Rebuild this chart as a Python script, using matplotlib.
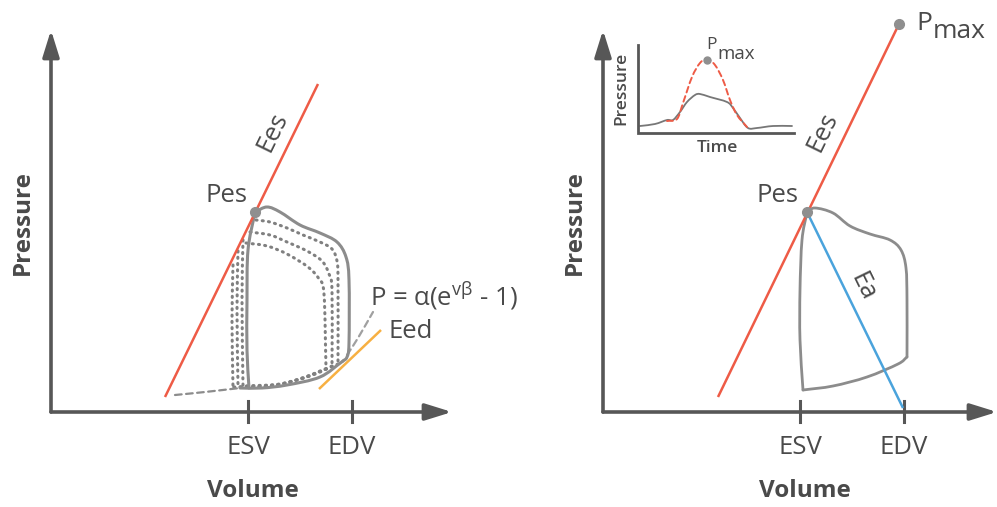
"""
Pressure-volume loop schematics: ESPVR / EDPVR (left) and Ees / Ea coupling (right).
Drawn on a single full-figure axes in pixel coordinates (y pointing down).
"""
import numpy as np
import matplotlib
matplotlib.use("Agg")
import matplotlib.pyplot as plt
from matplotlib.path import Path
from matplotlib.patches import PathPatch

plt.rcParams["font.family"] = ["Open Sans", "DejaVu Sans"]

W, H = 997, 507

TEXT = "#4a4a4a"
AXIS = "#575757"
LOOP = "#8c8c8c"
RED = "#ee5b46"
ORANGE = "#f7b042"
BLUE = "#4aa3dc"
FS = 18.5  # regular label size

# ---------------------------------------------------------------------------
# Data (pixel positions)
# ---------------------------------------------------------------------------

# left panel
L_origin = (51, 412)
L_ytip = (51, 30)
L_xtip = (452, 412)
L_ticks = [248, 352]
tick_labels = ["ESV", "EDV"]

L_ees = [(165, 397), (318, 84)]
L_pes = (255, 212)
L_loop_top = [(255, 212), (267, 207), (280, 212), (300, 225), (320, 233),
              (337, 242), (346, 257), (349, 280), (349, 343), (347, 357), (343, 361)]
L_loop_bottom = [(343, 361), (320, 377), (287, 385), (262, 388), (240, 388)]
L_loop_left = [(249, 388), (247, 350), (247, 300), (248, 250), (255, 212)]

L_dotted_tops = [
    [(256, 220), (270, 222), (287, 228), (303, 235), (320, 242), (332, 249),
     (337, 261), (338, 280), (338, 363)],
    [(250, 232), (270, 235), (287, 242), (307, 251), (322, 261), (329, 274),
     (332, 290), (332, 365)],
    [(246, 243), (267, 246), (287, 254), (308, 267), (319, 279), (324, 294),
     (326, 368)],
]
L_dotted_left = [
    [(243, 240), (242, 300), (243, 386)],
    [(238, 251), (237, 310), (238, 386)],
    [(233, 265), (232, 320), (233, 387)],
]
L_dotted_bottom = [
    [(338, 364), (310, 376), (280, 384), (243, 386)],
    [(332, 366), (305, 377), (275, 385), (238, 387)],
    [(326, 369), (300, 379), (270, 386), (233, 387)],
]
L_edpvr_low = [(175, 395), (205, 392), (240, 388)]
L_edpvr_high = [(347, 355), (358, 338), (373, 312)]
L_eed = [(319, 389), (381, 330)]

# right panel
R_origin = (603, 412)
R_ytip = (603, 30)
R_xtip = (997, 412)
R_ticks = [800, 904]

R_ees = [(718, 397), (899, 24)]
R_pmax = (899, 24)
R_pes = (807, 212)
R_ea = [(807, 212), (903, 408)]
R_loop_top = [(807, 212), (815, 208), (833, 213), (850, 226), (870, 234),
              (890, 240), (901, 250), (906, 268), (907, 300), (907, 357)]
R_loop_bottom = [(907, 357), (898, 364), (867, 377), (833, 386), (803, 390)]
R_loop_left = [(803, 390), (800, 340), (800, 290), (802, 240), (807, 212)]

# inset: pressure vs time
I_origin = (638, 133)
I_ytop = (638, 45)
I_xend = (794, 133)
I_pressure = [(640, 126), (655, 124), (667, 120), (673, 120), (680, 112), (687, 102),
              (695, 95), (700, 94), (710, 97), (727, 102), (733, 108), (740, 118),
              (748, 128), (757, 128), (773, 126), (792, 126)]
I_isovolumic = [(667, 121), (677, 119), (683, 103), (692, 77), (700, 63), (707, 59),
                (715, 65), (723, 80), (730, 100), (737, 115), (747, 127)]
I_pmax = (707, 60)


# ---------------------------------------------------------------------------
# Helpers
# ---------------------------------------------------------------------------

def smooth_path(pts):
    """Catmull-Rom through pts, expressed as cubic Bezier segments."""
    p = np.asarray(pts, float)
    ext = np.vstack([2 * p[0] - p[1], p, 2 * p[-1] - p[-2]])
    verts = [p[0]]
    codes = [Path.MOVETO]
    for i in range(1, len(ext) - 2):
        p0, p1, p2, p3 = ext[i - 1], ext[i], ext[i + 1], ext[i + 2]
        verts += [p1 + (p2 - p0) / 6, p2 - (p3 - p1) / 6, p2]
        codes += [Path.CURVE4] * 3
    return Path(verts, codes)


def curve(ax, pts, **kw):
    ax.add_patch(PathPatch(smooth_path(pts), fill=False, capstyle="round",
                           joinstyle="round", **kw))


def line(ax, pts, **kw):
    xs, ys = zip(*pts)
    ax.plot(xs, ys, solid_capstyle="butt", **kw)


def axis_arrow(ax, start, tip, lw=2.6, hl=0.9, hw=0.28, ms=18):
    ax.annotate("", xy=tip, xytext=start,
                arrowprops=dict(arrowstyle=f"-|>,head_length={hl},head_width={hw}",
                                lw=lw, color=AXIS, shrinkA=0, shrinkB=0,
                                mutation_scale=ms))


def frame(ax, origin, ytip, xtip, ticks):
    axis_arrow(ax, origin, ytip)
    axis_arrow(ax, origin, xtip)
    for x, lab in zip(ticks, tick_labels):
        ax.plot([x, x], [origin[1] - 11, origin[1] + 10], color=AXIS, lw=2.2)
        ax.text(x, 448, lab, fontsize=FS, color=TEXT, ha="center", va="center")


# ---------------------------------------------------------------------------
# Figure
# ---------------------------------------------------------------------------

fig = plt.figure(figsize=(W / 100, H / 100), dpi=100)
ax = fig.add_axes([0, 0, 1, 1])
ax.set_xlim(0, W)
ax.set_ylim(H, 0)
ax.axis("off")

DOTS = (0, (0.35, 1.7))

# ---- left panel
frame(ax, L_origin, L_ytip, L_xtip, L_ticks)
ax.text(253, 491, "Volume", fontsize=17.5, fontweight="bold", color=TEXT,
        ha="center", va="center")
ax.text(23, 223, "Pressure", fontsize=17.5, fontweight="bold", color=TEXT,
        ha="center", va="center", rotation=90)

for pts in L_dotted_tops + L_dotted_left + L_dotted_bottom:
    curve(ax, pts, edgecolor="#808080", lw=2.2, linestyle=DOTS)
curve(ax, L_edpvr_low, edgecolor=LOOP, lw=1.6, linestyle=(0, (3, 2)))
curve(ax, L_edpvr_high, edgecolor="#a0a0a0", lw=1.6, linestyle=(0, (3, 2)))

line(ax, L_ees, color=RED, lw=1.8)
line(ax, L_eed, color=ORANGE, lw=1.8)
for pts in (L_loop_top, L_loop_bottom, L_loop_left):
    curve(ax, pts, edgecolor=LOOP, lw=2.2)
ax.plot(*L_pes, "o", color="#8f8f8f", ms=7)

ax.text(273, 132, "Ees", fontsize=FS, color=TEXT, ha="center", va="center",
        rotation=64, rotation_mode="anchor")
ax.text(226, 196, "Pes", fontsize=FS, color=TEXT, ha="center", va="center")
ax.text(411, 331, "Eed", fontsize=FS, color=TEXT, ha="center", va="center")
ax.text(370, 296, r"P = α(e$^{\mathregular{vβ}}$ - 1)", fontsize=FS, color=TEXT,
        ha="left", va="center")

# ---- right panel
frame(ax, R_origin, R_ytip, R_xtip, R_ticks)
ax.text(805, 491, "Volume", fontsize=17.5, fontweight="bold", color=TEXT,
        ha="center", va="center")
ax.text(575, 223, "Pressure", fontsize=17.5, fontweight="bold", color=TEXT,
        ha="center", va="center", rotation=90)

line(ax, R_ees, color=RED, lw=1.8)
line(ax, R_ea, color=BLUE, lw=1.8)
for pts in (R_loop_top, R_loop_bottom, R_loop_left):
    curve(ax, pts, edgecolor=LOOP, lw=2.0)
ax.plot(*R_pes, "o", color="#8f8f8f", ms=7)
ax.plot(*R_pmax, "o", color="#8f8f8f", ms=7)

ax.text(823, 132, "Ees", fontsize=FS, color=TEXT, ha="center", va="center",
        rotation=64, rotation_mode="anchor")
ax.text(863, 287, "Ea", fontsize=FS, color=TEXT, ha="center", va="center",
        rotation=-64, rotation_mode="anchor")
ax.text(777, 196, "Pes", fontsize=FS, color=TEXT, ha="center", va="center")
ax.text(916, 30, "P", fontsize=19, color=TEXT, ha="left", va="baseline")
ax.text(933, 38, "max", fontsize=19, color=TEXT, ha="left", va="baseline")

# ---- inset
ax.plot([I_ytop[0], I_origin[0], I_xend[0]], [I_ytop[1], I_origin[1], I_xend[1]],
        color=AXIS, lw=2.0, solid_joinstyle="miter")
curve(ax, I_pressure, edgecolor="#777777", lw=1.3)
curve(ax, I_isovolumic, edgecolor=RED, lw=1.4, linestyle=(0, (3, 2)))
ax.plot(*I_pmax, "o", color="#8f8f8f", ms=5)
ax.text(717, 148, "Time", fontsize=12.5, fontweight="semibold", color=TEXT,
        ha="center", va="center")
ax.text(621, 88, "Pressure", fontsize=12.5, fontweight="semibold", color=TEXT,
        ha="center", va="center", rotation=90)
ax.text(706, 49, "P", fontsize=12.5, color=TEXT, ha="left", va="baseline")
ax.text(717, 59, "max", fontsize=13.5, color=TEXT, ha="left", va="baseline")

fig.savefig("out.png", dpi=100)
